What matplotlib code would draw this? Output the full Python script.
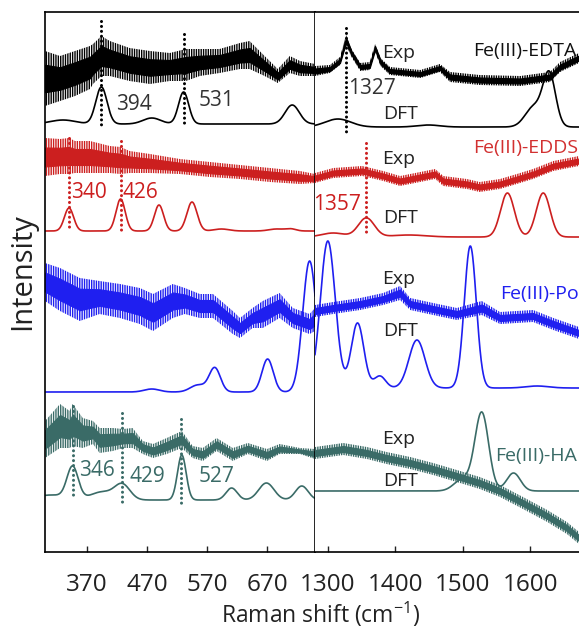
import numpy as np
import matplotlib
matplotlib.use("Agg")
import matplotlib.pyplot as plt

plt.rcParams['font.family'] = ['Open Sans', 'DejaVu Sans']
plt.rcParams['mathtext.fontset'] = 'custom'
plt.rcParams['mathtext.rm'] = 'Open Sans'
plt.rcParams['hatch.linewidth'] = 1.0

BLACK = '#000000'
RED = '#cc1f1f'
BLUE = '#1f1ff0'
TEAL = '#3a6b67'

# ---- experimental spectra: noise envelope (lower / upper), offset-stacked a.u.
edta_exp_lx = [300, 325, 350, 375, 380, 394, 408, 441, 475, 508, 535, 558, 591, 625, 641, 666, 688, 708, 725, 750]
edta_exp_lhi = [501, 496, 501, 506, 508, 516, 511, 504, 501, 499, 503, 503, 503, 509, 511, 496, 483, 496, 491, 488]
edta_exp_llo = [446, 451, 456, 463, 468, 476, 476, 471, 468, 471, 471, 476, 479, 483, 483, 476, 469, 479, 476, 476]
edta_exp_rx = [1281, 1303, 1318, 1327, 1335, 1348, 1362, 1370, 1378, 1392, 1437, 1466, 1481, 1525, 1585, 1629, 1644, 1672]
edta_exp_rhi = [486, 487, 495, 517, 503, 489, 490, 508, 494, 485, 482, 488, 480, 477, 476, 480, 490, 499]
edta_exp_rlo = [476, 479, 487, 507, 495, 481, 482, 500, 486, 477, 474, 480, 470, 467, 466, 470, 480, 489]

edds_exp_lx = [300, 325, 340, 350, 375, 408, 426, 441, 475, 525, 575, 625, 675, 725, 750]
edds_exp_lhi = [414, 413, 414, 411, 411, 406, 405, 401, 398, 393, 390, 387, 384, 381, 378]
edds_exp_llo = [376, 378, 378, 379, 379, 379, 378, 379, 379, 378, 375, 373, 370, 368, 369]
edds_exp_rx = [1281, 1308, 1351, 1382, 1407, 1422, 1459, 1471, 1506, 1525, 1555, 1580, 1604, 1634, 1672]
edds_exp_rhi = [379, 384, 386, 381, 376, 378, 383, 376, 373, 370, 373, 378, 383, 391, 396]
edds_exp_rlo = [369, 374, 376, 371, 366, 368, 373, 366, 363, 360, 363, 368, 373, 381, 386]

po_exp_lx = [300, 325, 358, 391, 425, 458, 480, 513, 533, 558, 580, 613, 625, 646, 663, 691, 713, 741, 750]
po_exp_lhi = [289, 284, 274, 271, 268, 264, 258, 268, 264, 258, 258, 241, 234, 244, 251, 259, 244, 238, 244]
po_exp_llo = [251, 241, 231, 238, 234, 228, 221, 234, 238, 234, 234, 218, 214, 224, 224, 234, 224, 218, 221]
po_exp_rx = [1281, 1308, 1348, 1382, 1407, 1422, 1456, 1491, 1528, 1555, 1604, 1634, 1672]
po_exp_rhi = [247, 250, 254, 259, 266, 254, 249, 244, 251, 240, 242, 234, 225]
po_exp_rlo = [235, 238, 242, 247, 252, 242, 237, 232, 237, 228, 230, 222, 213]

ha_exp_lx = [300, 325, 341, 346, 363, 380, 391, 413, 430, 446, 463, 480, 503, 528, 546, 563, 586, 613, 638, 670, 691, 725, 750]
ha_exp_lhi = [131, 148, 141, 148, 134, 131, 124, 124, 123, 124, 111, 108, 114, 121, 106, 104, 114, 104, 109, 103, 108, 104, 103]
ha_exp_llo = [94, 104, 104, 106, 104, 108, 99, 101, 104, 104, 98, 94, 98, 104, 94, 91, 101, 91, 98, 91, 98, 98, 93]
ha_exp_rx = [1281, 1323, 1358, 1387, 1422, 1456, 1491, 1525, 1555, 1589, 1625, 1654, 1672]
ha_exp_rhi = [105, 109, 105, 100, 95, 89, 82, 75, 67, 55, 42, 30, 20]
ha_exp_rlo = [93, 97, 93, 88, 83, 77, 70, 63, 55, 43, 30, 18, 8]

# ---- DFT band lists: position (cm-1), intensity, FWHM; plus baseline offset
edta_dft_base = (428, 425)
edta_dft_pos = [330, 394, 478, 531, 712, 1315, 1449, 1605, 1628]
edta_dft_int = [4, 37, 6, 32, 19, 8, 2, 20, 52]
edta_dft_fwhm = [50, 22, 35, 20, 28, 45, 40, 30, 22]

edds_dft_base = (321, 315)
edds_dft_pos = [340, 426, 490, 545, 594, 686, 710, 1308, 1357, 1420, 1566, 1619]
edds_dft_int = [23, 32, 26, 29, 2, 2, 2, 4, 19, 2, 44, 44]
edds_dft_fwhm = [18, 18, 18, 20, 30, 30, 20, 40, 28, 60, 24, 24]

po_dft_base = (160, 164)
po_dft_pos = [478, 555, 583, 671, 741, 1300, 1344, 1377, 1432, 1511, 1610]
po_dft_int = [3, 7, 24, 33, 131, 147, 65, 12, 48, 142, 2]
po_dft_fwhm = [30, 30, 22, 22, 27, 26, 22, 20, 28, 21, 40]

ha_dft_base = (52, 61)
ha_dft_pos = [310, 346, 395, 429, 528, 611, 669, 728, 1500, 1528, 1575]
ha_dft_int = [5, 32, 8, 15, 45, 12, 17, 14, 12, 78, 18]
ha_dft_fwhm = [60, 22, 45, 30, 17, 22, 30, 25, 30, 24, 24]

# ---- assigned bands marked with dotted lines: (position, top, bottom)
edta_marks = [(394, 531, 423), (531, 518, 429), (1327, 524, 416)]
edds_marks = [(340, 414, 323), (426, 411, 321), (1357, 409, 319)]
ha_marks = [(346, 146, 56), (429, 139, 49), (527, 133, 49)]

left_ticks = [370, 470, 570, 670]
right_ticks = [1300, 1400, 1500, 1600]
LEFT_LIM = (300, 750)
RIGHT_LIM = (1281, 1672)


def broaden(grid, pos, inten, fwhm, lo, hi):
    """Gaussian-broadened stick spectrum, only bands inside [lo, hi]."""
    y = np.zeros_like(grid)
    for p, a, w in zip(pos, inten, fwhm):
        if lo - 100 <= p <= hi + 100:
            y += a * np.exp(-4 * np.log(2) * ((grid - p) / w) ** 2)
    return y


def noisy_band(ax, x, lo, hi, c):
    """Measured spectrum: hatched outer envelope plus a dense core."""
    lo, hi = np.asarray(lo, float), np.asarray(hi, float)
    span = hi - lo
    ax.fill_between(x, lo, hi, facecolor='none', edgecolor=c, lw=0, hatch='|||||||')
    ax.fill_between(x, lo + 0.25 * span, hi - 0.25 * span, color=c, lw=0.8)


fig = plt.figure(figsize=(5.79, 6.29), dpi=100)
W, H = 579, 629
bot, top = 1 - 552 / H, 1 - 12 / H
axL = fig.add_axes([45 / W, bot, 270 / W, top - bot])
axR = fig.add_axes([315 / W, bot, 264 / W, top - bot])

gridL = np.linspace(LEFT_LIM[0], LEFT_LIM[1], 900)
gridR = np.linspace(RIGHT_LIM[0], RIGHT_LIM[1], 900)

series = [
    (BLACK, edta_exp_lx, edta_exp_llo, edta_exp_lhi, edta_exp_rx, edta_exp_rlo, edta_exp_rhi,
     edta_dft_base, edta_dft_pos, edta_dft_int, edta_dft_fwhm),
    (RED, edds_exp_lx, edds_exp_llo, edds_exp_lhi, edds_exp_rx, edds_exp_rlo, edds_exp_rhi,
     edds_dft_base, edds_dft_pos, edds_dft_int, edds_dft_fwhm),
    (BLUE, po_exp_lx, po_exp_llo, po_exp_lhi, po_exp_rx, po_exp_rlo, po_exp_rhi,
     po_dft_base, po_dft_pos, po_dft_int, po_dft_fwhm),
    (TEAL, ha_exp_lx, ha_exp_llo, ha_exp_lhi, ha_exp_rx, ha_exp_rlo, ha_exp_rhi,
     ha_dft_base, ha_dft_pos, ha_dft_int, ha_dft_fwhm),
]

for (c, lx, llo, lhi, rx, rlo, rhi, base, pos, inten, fwhm) in series:
    noisy_band(axL, lx, llo, lhi, c)
    noisy_band(axR, rx, rlo, rhi, c)
    # calculated spectrum
    yl = base[0] + broaden(gridL, pos, inten, fwhm, *LEFT_LIM)
    yr = base[1] + broaden(gridR, pos, inten, fwhm, *RIGHT_LIM)
    axL.plot(gridL, yl, color=c, lw=1.2)
    axR.plot(gridR, yr, color=c, lw=1.2)

for marks, c in [(edta_marks, BLACK), (edds_marks, RED), (ha_marks, TEAL)]:
    for x, y0, y1 in marks:
        ax = axL if x < 1000 else axR
        ax.plot([x, x], [y0, y1], color=c, lw=2.2, ls=(0, (0.01, 1.6)),
                dash_capstyle='round')

ann = dict(ha='center', va='center', fontsize=15)
axL.text(448, 448, '394', color='#333333', **ann)
axL.text(586, 451, '531', color='#333333', **ann)
axR.text(1365, 463, '1327', color='#333333', **ann)
axL.text(374, 359, '340', color=RED, **ann)
axL.text(459, 359, '426', color=RED, **ann)
axR.text(1314, 348, '1357', color=RED, clip_on=False, **ann)
axL.text(386, 81, '346', color=TEAL, **ann)
axL.text(471, 75, '429', color=TEAL, **ann)
axL.text(586, 76, '527', color=TEAL, **ann)

lab = dict(ha='center', va='center', fontsize=14, color='#222222')
for y_exp, y_dft in [(499, 438), (393, 334), (273, 221), (113, 71)]:
    axR.text(1405, y_exp, 'Exp', **lab)
    axR.text(1407, y_dft, 'DFT', **lab)

name = dict(ha='left', va='center', fontsize=14, clip_on=False)
axR.text(1515, 501, 'Fe(III)-EDTA', color='#111111', **name)
axR.text(1515, 404, 'Fe(III)-EDDS', color='#d23030', **name)
axR.text(1555, 258, 'Fe(III)-Por', color=BLUE, **name)
axR.text(1548, 96, 'Fe(III)-HA', color=TEAL, **name)

for ax, lim, ticks in [(axL, LEFT_LIM, left_ticks), (axR, RIGHT_LIM, right_ticks)]:
    ax.set_xlim(*lim)
    ax.set_ylim(0, 540)
    ax.set_yticks([])
    ax.set_xticks(ticks)
    ax.tick_params(axis='x', direction='in', length=4, width=1, labelsize=17.5, pad=15,
                   colors='#222222')
    for s in ax.spines.values():
        s.set_linewidth(1.2)
axR.spines['left'].set_visible(False)
axR.spines['right'].set_visible(False)

axL.set_ylabel('Intensity', fontsize=21, color='#222222')
axL.yaxis.set_label_coords(-0.03, 0.52)
fig.text(321 / W, 1 - 614 / H, 'Raman shift (cm$^{\\mathregular{-1}}$)', ha='center',
         va='center', fontsize=16.5, color='#222222')

fig.savefig('out.png', dpi=100)
